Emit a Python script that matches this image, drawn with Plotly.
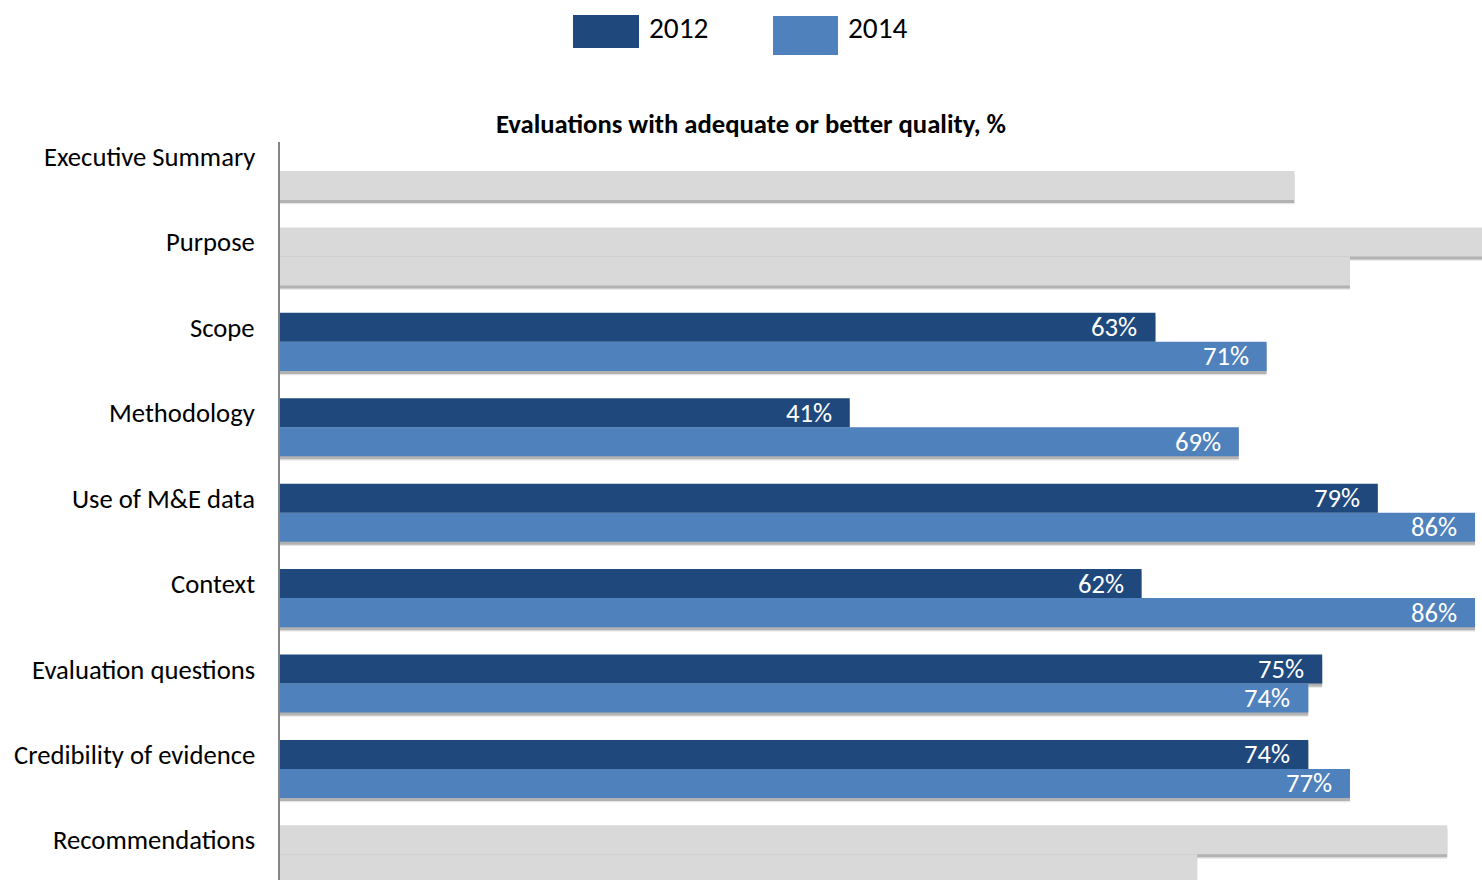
import plotly.graph_objects as go

# Evaluation quality criteria, top to bottom
categories = [
    "Executive Summary",
    "Purpose",
    "Scope",
    "Methodology",
    "Use of M&E data",
    "Context",
    "Evaluation questions",
    "Credibility of evidence",
    "Recommendations",
]
# Share of evaluations with adequate or better quality (%)
values_2012 = [None, 90, 63, 41, 79, 62, 75, 74, 84]
values_2014 = [73, 77, 71, 69, 86, 86, 74, 77, 66]
# Criteria shown greyed out (no value labels)
greyed = ["Executive Summary", "Purpose", "Recommendations"]

series_names = ["2012", "2014"]
COL_2012 = "#1F497D"
COL_2014 = "#4F81BD"
COL_GREY = "#D9D9D9"
FONT = "Carlito, 'Open Sans', sans-serif"

W, H = 1482, 880
ML, MT = 280, 142
BAR_W = 0.34
SHADOW_DY = 0.035

fig = go.Figure()

series = [(values_2012, COL_2012, -BAR_W), (values_2014, COL_2014, 0.0)]

# drop shadows underneath all bars (two layers for a softer edge)
for dy, alpha in [(SHADOW_DY + 0.015, 0.10), (SHADOW_DY, 0.22)]:
    for vals, col, off in series:
        fig.add_trace(go.Bar(
            y=categories, x=vals, orientation="h",
            width=BAR_W, offset=off + dy,
            marker=dict(color=f"rgba(0,0,0,{alpha})", line=dict(width=0)),
            hoverinfo="skip", showlegend=False,
        ))

for (vals, col, off), name in zip(series, series_names):
    colors = [COL_GREY if c in greyed else col for c in categories]
    fig.add_trace(go.Bar(
        y=categories, x=vals, orientation="h", name=name,
        width=BAR_W, offset=off,
        marker=dict(color=colors, line=dict(width=0)),
        showlegend=False,
    ))

annotations = []
# value labels inside bar ends
for (vals, col, off) in series:
    for c, v in zip(categories, vals):
        if v is None or c in greyed:
            continue
        idx = categories.index(c)
        annotations.append(dict(
            x=v, y=idx + off + BAR_W / 2, xref="x", yref="y",
            text=f"{v}%", showarrow=False, xanchor="right", yanchor="middle",
            xshift=-16, font=dict(family=FONT, size=26.67, color="white"),
        ))

# category labels, sitting slightly above each group centre
for i, c in enumerate(categories):
    annotations.append(dict(
        x=0, y=i, xref="paper", yref="y", text=c, showarrow=False,
        xanchor="right", yanchor="middle", xshift=-23, yshift=14,
        font=dict(family=FONT, size=26.67, color="black"),
    ))

PW, PH = W - ML, H - MT


def px_x(p):
    return (p - ML) / PW


def px_y(p):
    return 1 - (p - MT) / PH


annotations.append(dict(
    x=px_x(751), y=px_y(124), xref="paper", yref="paper",
    text="<b>Evaluations with adequate or better quality, %</b>",
    showarrow=False, xanchor="center", yanchor="middle",
    font=dict(family=FONT, size=26.67, color="black"),
))

# legend
shapes = []
legend_items = [
    (series_names[0], COL_2012, (573, 639, 15, 48), 647),
    (series_names[1], COL_2014, (773, 838, 16, 55), 846),
]
for name, col, (x0, x1, y0, y1), tx in legend_items:
    shapes.append(dict(
        type="rect", xref="paper", yref="paper",
        x0=px_x(x0), x1=px_x(x1), y0=px_y(y1), y1=px_y(y0),
        fillcolor=col, line=dict(width=0),
    ))
    annotations.append(dict(
        x=px_x(tx), y=px_y(28), xref="paper", yref="paper", text=name,
        showarrow=False, xanchor="left", yanchor="middle",
        font=dict(family=FONT, size=29.33, color="black"),
    ))

fig.update_layout(
    width=W, height=H,
    margin=dict(l=ML, r=0, t=MT, b=0, pad=0),
    plot_bgcolor="white", paper_bgcolor="white",
    barmode="overlay",
    showlegend=False,
    xaxis=dict(range=[0, 86.5], showgrid=False, zeroline=False,
               showticklabels=False, ticks="", showline=False),
    yaxis=dict(type="category", categoryorder="array", categoryarray=categories,
               range=[8.30, -0.34], showgrid=False, zeroline=False,
               showticklabels=False, ticks="",
               showline=True, linecolor="#868686", linewidth=2),
    annotations=annotations,
    shapes=shapes,
)

fig.write_html("out.html")
